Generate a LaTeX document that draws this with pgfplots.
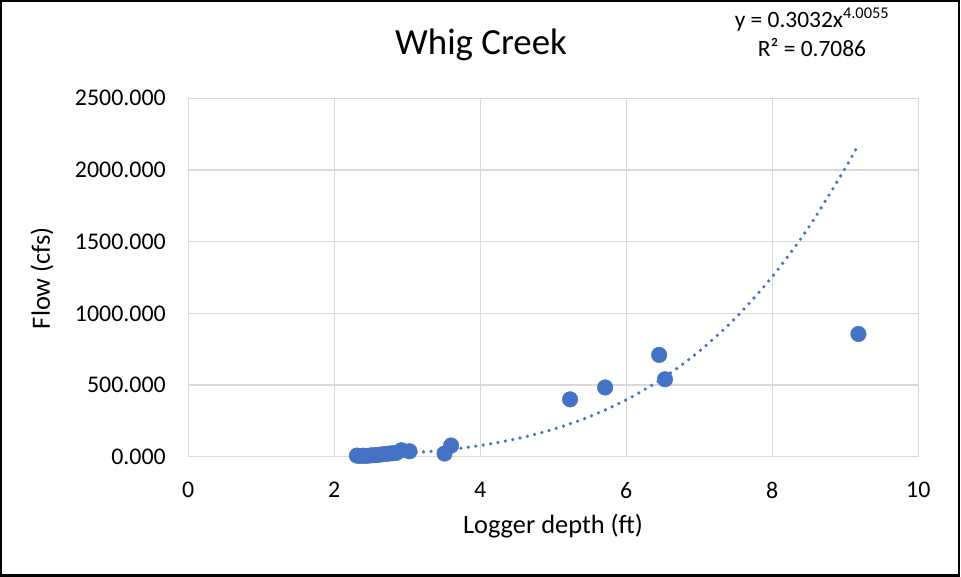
\documentclass[border=0pt]{standalone}
\usepackage{fontspec}
\setmainfont{Carlito}
\usepackage{pgfplots}
\pgfplotsset{compat=1.18}
\definecolor{xlblue}{HTML}{4472C4}
\definecolor{gridgray}{HTML}{D9D9D9}
\begin{document}
\begin{tikzpicture}
\useasboundingbox (0,0) rectangle (961bp,577bp);
\draw[line width=2bp] (1bp,1.5bp) rectangle (959bp,576bp);
\begin{axis}[
  at={(188.3bp,120.3bp)}, anchor=south west,
  scale only axis, width=730bp, height=358.4bp,
  xmin=0, xmax=10, ymin=0, ymax=2500,
  xtick={0,2,...,10}, ytick={0,500,...,2500},
  yticklabels={0.000,500.000,1000.000,1500.000,2000.000,2500.000},
  grid=major, major grid style={gridgray, line width=1.4bp},
  axis line style={gridgray, line width=1.4bp},
  major tick length=0pt,
  tick label style={font=\fontsize{24}{26}\selectfont, text=black},
  /pgf/number format/assume math mode=true,
  yticklabel style={xshift=-19bp},
  xticklabel style={yshift=-22bp},
  clip=false,
]
\addplot[xlblue, line width=3.6bp, line cap=round, dash pattern=on 0pt off 7.5bp, smooth]
 coordinates {(2.3,8.52)(2.5,11.90)(3,24.71)(3.5,45.81)(4,78.21)(4.5,125.36)(5,191.19)(5.5,280.06)(6,396.84)(6.5,546.83)(7,735.82)(7.5,970.03)(8,1256.20)(8.5,1601.46)(9,2013.47)(9.18,2179.69)};
\addplot[only marks, mark=*, mark size=7.8bp, mark options={fill=xlblue, draw=xlblue}]
 coordinates {
 (2.31,8)(2.35,5)(2.40,7)(2.45,6)(2.50,9)(2.55,11)(2.60,13)(2.65,16)(2.70,19)(2.75,22)(2.80,24)(2.85,27)(2.92,45)(3.03,38)
 (3.51,22)(3.60,78)
 (5.23,400)(5.71,483)(6.45,710)(6.53,540)(9.18,856)};
\end{axis}
\node[font=\fontsize{37}{40}\selectfont] at (481bp,532bp) {Whig Creek};
\node[font=\fontsize{23.5}{26}\selectfont] at (812bp,557bp) {y = 0.3032x\textsuperscript{4.0055}};
\node[font=\fontsize{23.5}{26}\selectfont] at (812bp,529bp) {R² = 0.7086};
\node[font=\fontsize{26.5}{29}\selectfont, rotate=90] at (42bp,299bp) {Flow (cfs)};
\node[font=\fontsize{26.5}{29}\selectfont] at (553bp,51bp) {Logger depth (ft)};
\end{tikzpicture}
\end{document}
